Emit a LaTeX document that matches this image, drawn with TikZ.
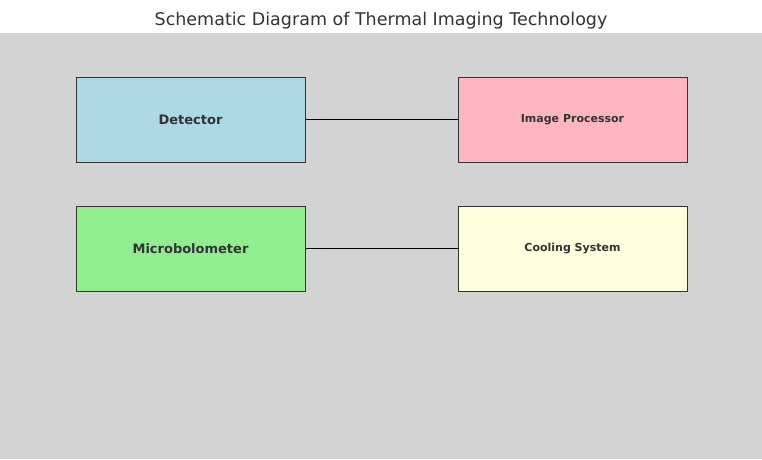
\documentclass[tikz,border=0pt]{standalone}
\usepackage{fontspec}
\setmainfont{DejaVu Sans}
\usetikzlibrary{positioning}
\definecolor{bggray}{HTML}{D3D3D3}
\definecolor{txtgray}{HTML}{333333}
\definecolor{detblue}{HTML}{ADD8E6}
\definecolor{procpink}{HTML}{FFB6C1}
\definecolor{bolgreen}{HTML}{90EE90}
\definecolor{coolyellow}{HTML}{FFFFE0}
\tikzset{
    part/.style={draw=txtgray,line width=1pt,minimum width=229pt,minimum height=85pt,
        inner sep=0pt,text=txtgray,font=\bfseries},
    link/.style={line width=1.4pt,black}
}
\begin{document}
\begin{tikzpicture}[x=1pt,y=-1pt,node distance=43pt and 152pt]
    % background
        \useasboundingbox (0,0) rectangle (762,459);
        \fill[white](0,0) rectangle (762,33);
        \fill[bggray](0,33) rectangle (762,459);
        \node[text=txtgray,font=\fontsize{17.5}{20}\selectfont] (title) at (381,21){Schematic Diagram of Thermal Imaging Technology};
    % boxes
        \node[part,fill=detblue,font=\bfseries\fontsize{13}{15}\selectfont] (detector) at (190.5,119.5){Detector};
        \node[part,fill=procpink,font=\bfseries\fontsize{11}{13}\selectfont,right=of detector] (processor){Image Processor};
        \node[part,fill=bolgreen,font=\bfseries\fontsize{13}{15}\selectfont,below=of detector] (bolometer){Microbolometer};
        \node[part,fill=coolyellow,font=\bfseries\fontsize{11}{13}\selectfont,right=of bolometer] (cooling){Cooling System};
    % links
        \draw[link](detector)--(processor);
        \draw[link](bolometer)--(cooling);
\end{tikzpicture}
\end{document}
